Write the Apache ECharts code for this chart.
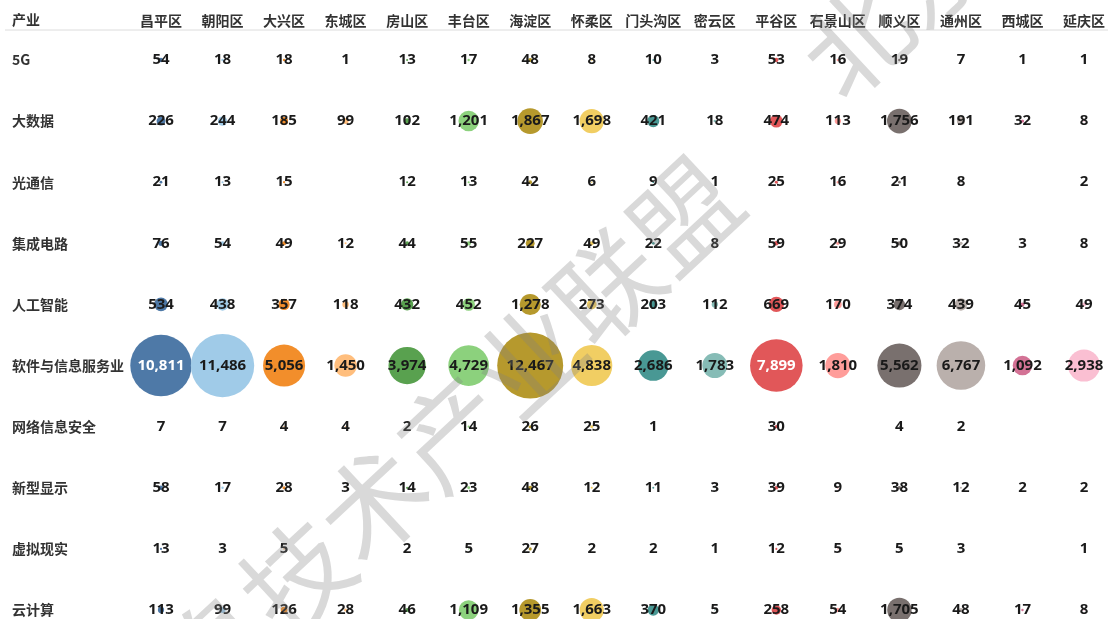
<!DOCTYPE html>
<html>
<head>
<meta charset="utf-8">
<script src="https://cdn.jsdelivr.net/npm/echarts@6/dist/echarts.min.js"></script>
<style>
html,body{margin:0;padding:0;background:#fff;}
#c{width:1108px;height:619px;}
</style>
</head>
<body>
<div id="c"></div>
<script>
var districts = ['昌平区','朝阳区','大兴区','东城区','房山区','丰台区','海淀区','怀柔区','门头沟区','密云区','平谷区','石景山区','顺义区','通州区','西城区','延庆区'];
var industries = ['5G','大数据','光通信','集成电路','人工智能','软件与信息服务业','网络信息安全','新型显示','虚拟现实','云计算'];

var v5G      = [54,18,18,1,13,17,48,8,10,3,53,16,19,7,1,1];
var vBigData = [226,244,185,99,102,1201,1867,1698,421,18,474,113,1756,191,32,8];
var vOptical = [21,13,15,null,12,13,42,6,9,1,25,16,21,8,null,2];
var vIC      = [76,54,49,12,44,55,227,49,22,8,59,29,50,32,3,8];
var vAI      = [534,438,357,118,432,452,1278,273,203,112,669,170,374,439,45,49];
var vSoftware= [10811,11486,5056,1450,3974,4729,12467,4838,2686,1783,7899,1810,5562,6767,1092,2938];
var vSecurity= [7,7,4,4,2,14,26,25,1,null,30,null,4,2,null,null];
var vDisplay = [58,17,28,3,14,23,48,12,11,3,39,9,38,12,2,2];
var vVR      = [13,3,5,null,2,5,27,2,2,1,12,5,5,3,null,1];
var vCloud   = [113,99,126,28,46,1109,1355,1663,370,5,258,54,1705,48,17,8];

var rows = [v5G,vBigData,vOptical,vIC,vAI,vSoftware,vSecurity,vDisplay,vVR,vCloud];

var colors = ['#4e79a7','#a0cbe8','#f28e2b','#ffbe7d','#59a14f','#8cd17d','#b6992d','#f1ce63','#499894','#86bcb6','#e15759','#ff9d9a','#79706e','#bab0ac','#d37295','#fabfd2'];
var darkCols = {0:true,10:true,12:true};

var maxV = 12467, maxD = 66;
function dia(v){ return maxD*Math.sqrt(v/maxV); }
function fmt(v){ return Number(v).toLocaleString('en-US'); }

var series = districts.map(function(d, ci){
  var data = [];
  rows.forEach(function(r, ri){
    if (r[ci] !== null && r[ci] !== undefined) {
      var v = r[ci];
      data.push({
        value:[ci, ri, v],
        label:{color:(darkCols[ci] && dia(v) > 45) ? '#ffffff' : '#1a1a1a'}
      });
    }
  });
  return {
    type:'scatter',
    name:d,
    data:data,
    symbolSize:function(val){ return dia(val[2]); },
    itemStyle:{color:colors[ci], opacity:1},
    label:{
      show:true, position:'inside',
      formatter:function(p){ return fmt(p.value[2]); },
      fontFamily:'Open Sans, "Noto Sans CJK SC", sans-serif',
      fontWeight:'bold', fontSize:15
    },
    labelLayout:{hideOverlap:false},
    emphasis:{disabled:true},
    z:2
  };
});

var chart = echarts.init(document.getElementById('c'), null, {renderer:'canvas'});
var wmFont = '"Noto Sans CJK SC", sans-serif';
var wmFill = 'rgba(130,130,130,0.3)';
chart.setOption({
  animation:false,
  backgroundColor:'#ffffff',
  title:{text:'产业', left:12, top:13, padding:0, textStyle:{fontSize:14, fontWeight:'bold', color:'#333', fontFamily:'"Noto Sans CJK SC", sans-serif'}},
  grid:{left:161, right:23, top:60, bottom:9},
  xAxis:{
    type:'category', data:districts, position:'top', boundaryGap:false,
    axisLine:{show:false}, axisTick:{show:false}, splitLine:{show:false},
    axisLabel:{margin:39, verticalAlign:'middle', fontSize:14, fontWeight:'bold', color:'#333', fontFamily:'"Noto Sans CJK SC", sans-serif', interval:0}
  },
  yAxis:{
    type:'category', data:industries, inverse:true, boundaryGap:false,
    axisLine:{show:false}, axisTick:{show:false}, splitLine:{show:false},
    axisLabel:{align:'left', margin:149, fontSize:14, fontWeight:'bold', color:'#333', fontFamily:'"Noto Sans CJK SC", sans-serif', interval:0}
  },
  series:series,
  graphic:[
    {type:'line', shape:{x1:5, y1:30, x2:1108, y2:30}, style:{stroke:'#dcdcdc', lineWidth:1}, z:1},
    {type:'text', x:335, y:540, rotation:0.75, z:100, silent:true,
     style:{text:'北京信息技术产业联盟', fill:wmFill, font:'normal 106px ' + wmFont, textAlign:'center', textVerticalAlign:'middle'}},
    {type:'text', x:1205, y:-285, rotation:0.75, z:100, silent:true,
     style:{text:'北京信息技术产业联盟', fill:wmFill, font:'normal 106px ' + wmFont, textAlign:'center', textVerticalAlign:'middle'}}
  ]
});
</script>
</body>
</html>
